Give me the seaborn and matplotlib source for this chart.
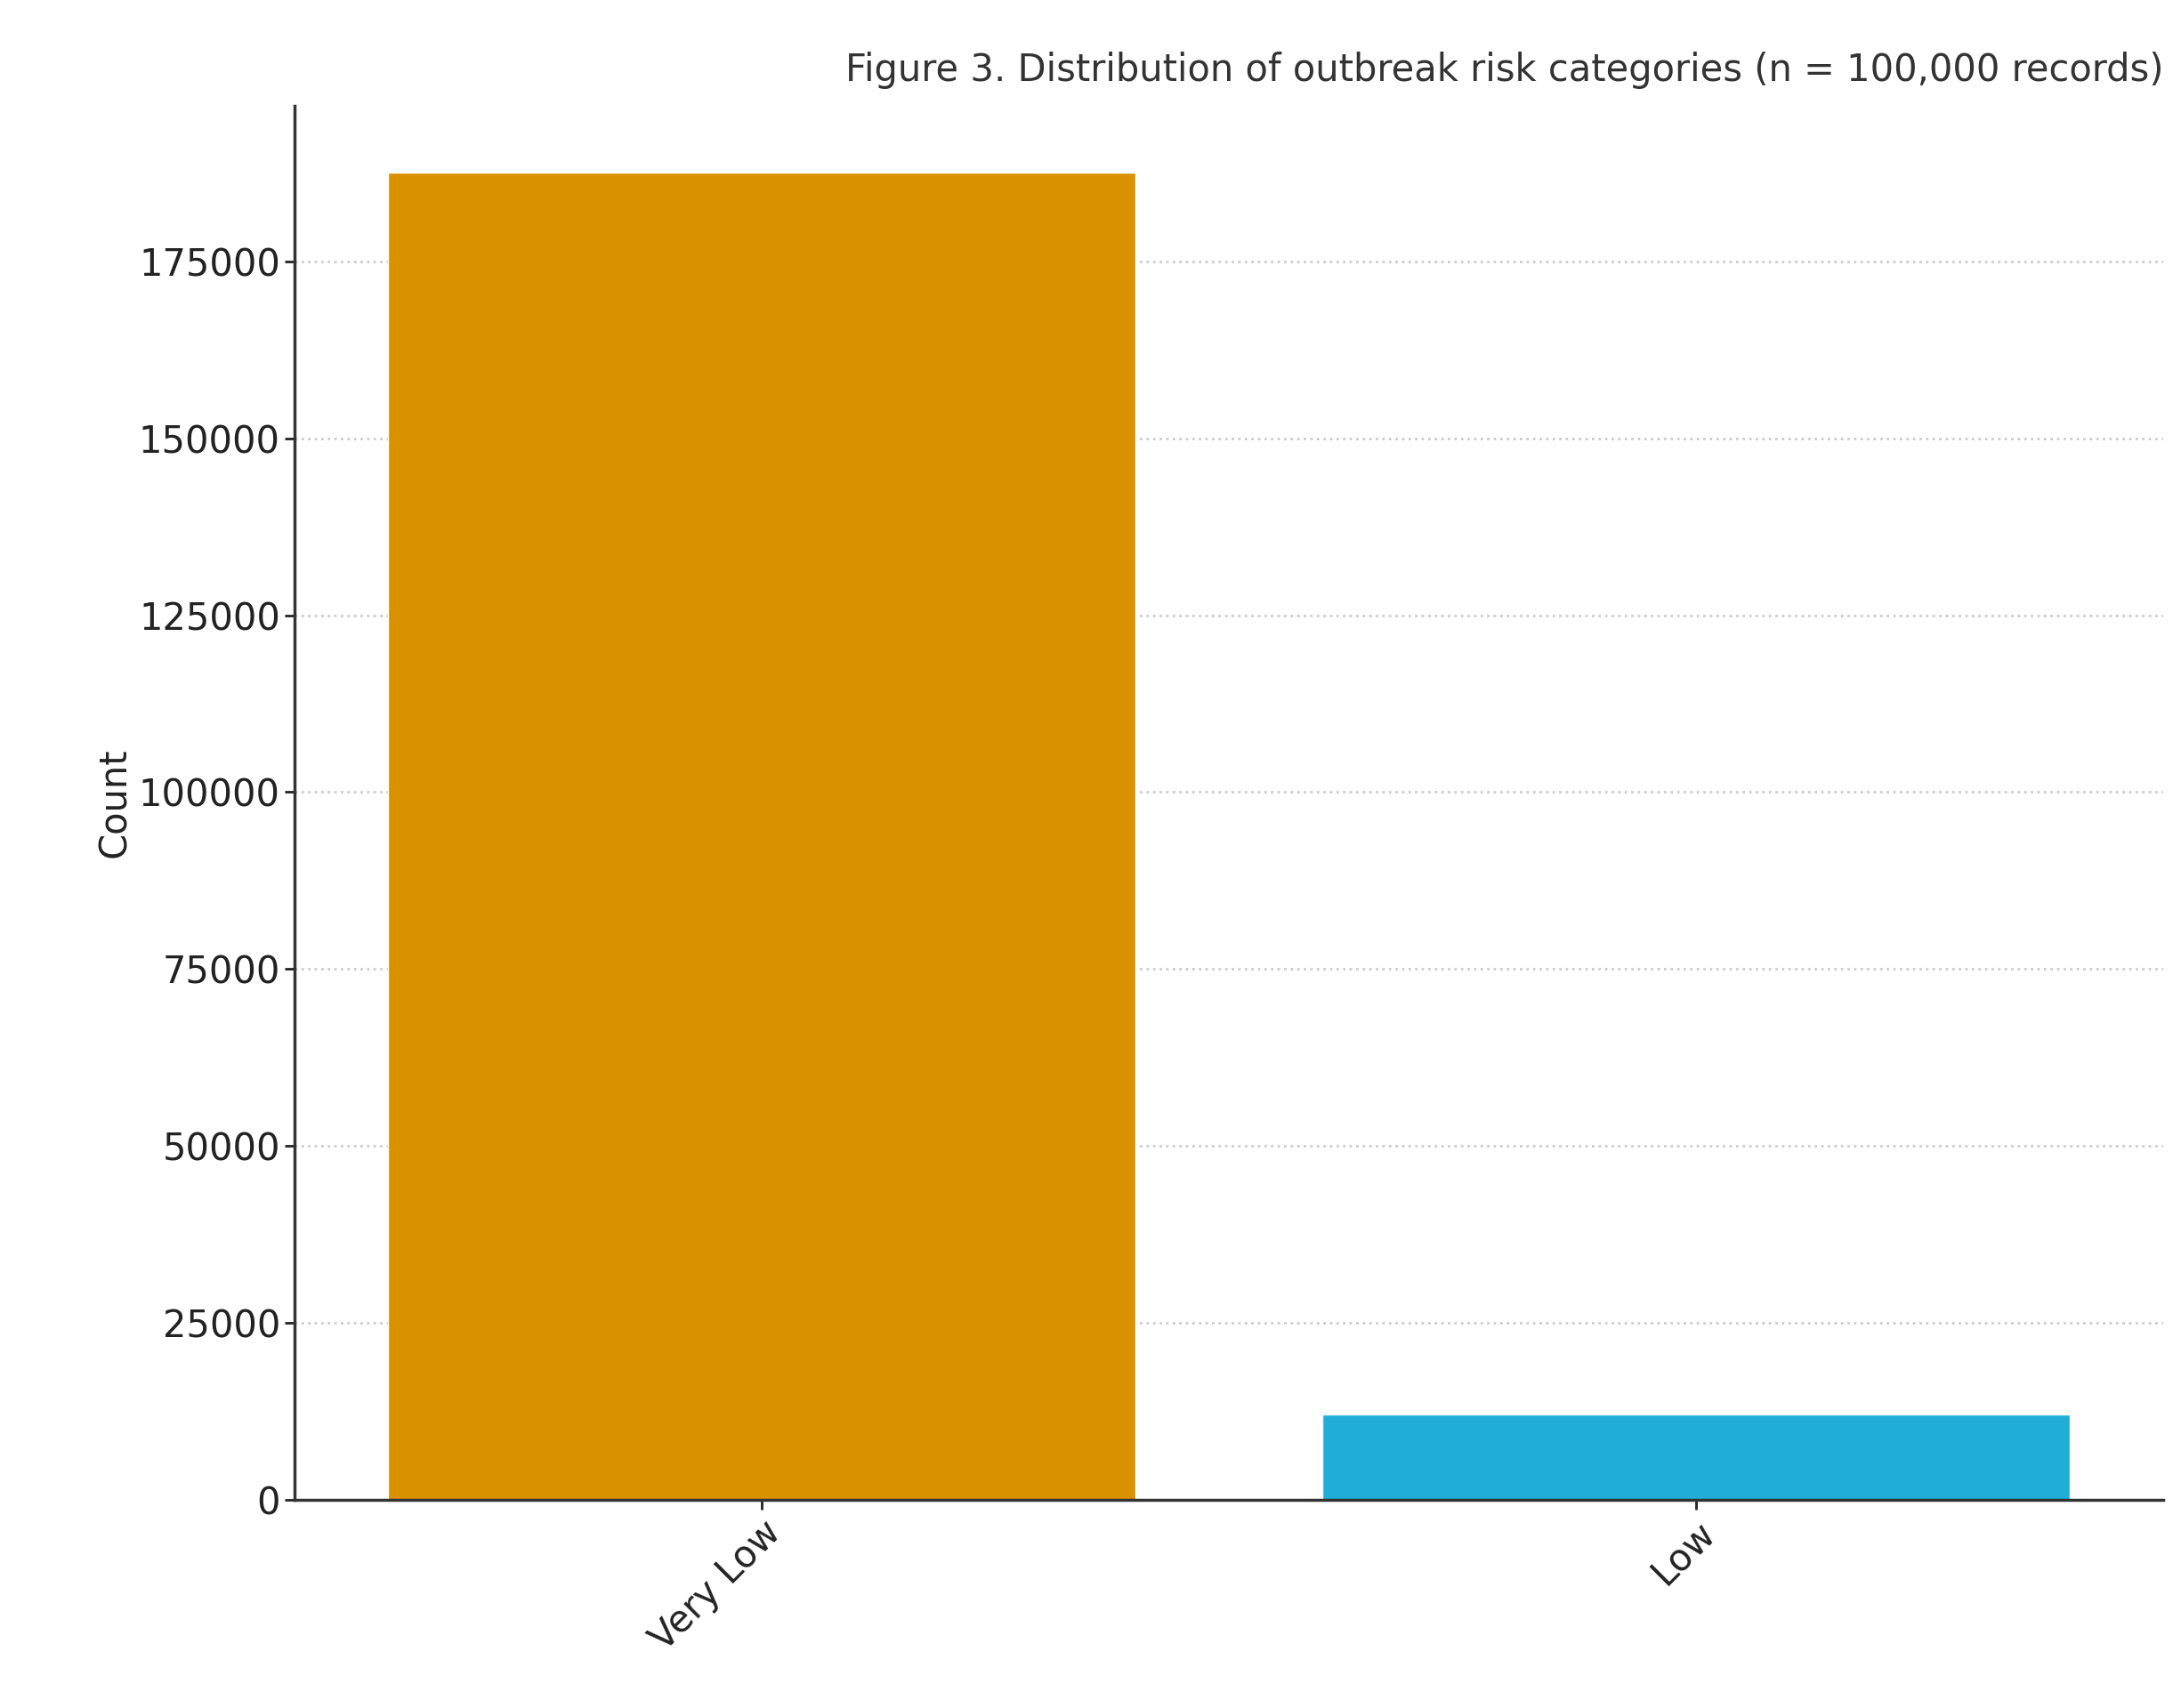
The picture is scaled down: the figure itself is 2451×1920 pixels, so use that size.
import pandas as pd
import matplotlib
matplotlib.use("Agg")
import matplotlib.pyplot as plt
import seaborn as sns

categories = ["Very Low", "Low"]
counts = [187600, 12100]
colors = ["#D99100", "#20AED8"]

df = pd.DataFrame({"category": categories, "count": counts})

sns.set_theme(style="white")
plt.rcParams["font.family"] = ["DejaVu Sans"]

fig = plt.figure(figsize=(24.51, 19.2), dpi=100)
ax = fig.add_axes([0.135, 0.122, 0.857, 0.816])

sns.barplot(data=df, x="category", y="count", hue="category",
            palette=colors, width=0.8, saturation=1, legend=False, ax=ax)

ax.set_xlim(-0.5, 1.5)
ax.set_ylim(0, 197000)
ax.set_yticks(range(0, 175001, 25000))
ax.yaxis.grid(True, linestyle=":", color="#cccccc", linewidth=2)
ax.set_axisbelow(True)

sns.despine(ax=ax)
for s in ["left", "bottom"]:
    ax.spines[s].set_color("#333333")
    ax.spines[s].set_linewidth(2.5)

ax.tick_params(axis="both", labelsize=30, colors="#222222", length=8, width=2, left=True, bottom=True)
plt.setp(ax.get_xticklabels(), rotation=45, ha="right", rotation_mode="anchor")
ax.set_xlabel("")
ax.set_ylabel("Count", fontsize=30, color="#222222")
ax.set_title("Figure 3. Distribution of outbreak risk categories (n = 100,000 records)",
             fontsize=30, color="#333333", pad=20, loc="right")

fig.savefig("out.png", dpi=100)
